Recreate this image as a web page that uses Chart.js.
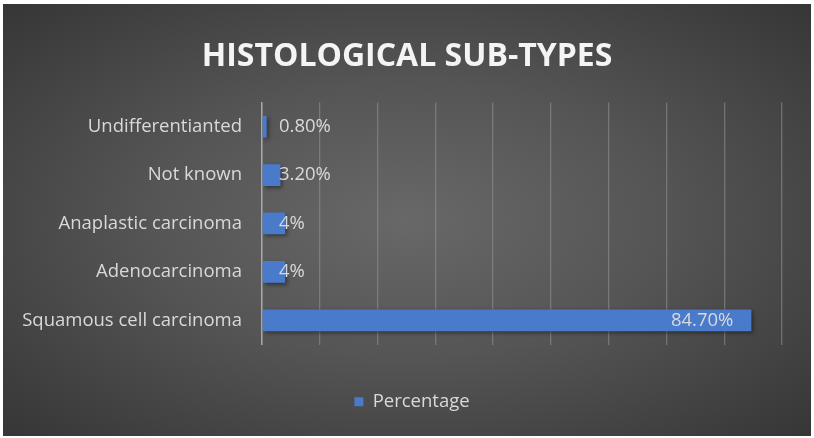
<!DOCTYPE html>
<html>
<head>
<meta charset="utf-8">
<script src="https://cdn.jsdelivr.net/npm/chart.js@4.4.1/dist/chart.umd.min.js"></script>
<style>
  html, body { margin: 0; padding: 0; background: #fff; }
  #wrap {
    position: absolute; left: 3px; top: 4px; width: 808px; height: 432px;
    background: radial-gradient(ellipse at 50% 50%, #686868 0%, #555 45%, #363636 100%);
  }
</style>
</head>
<body>
<div id="wrap"><canvas id="chart" width="808" height="432"></canvas></div>
<script>
// values (percent of cases)
const categories = ['Undifferentianted', 'Not known', 'Anaplastic carcinoma', 'Adenocarcinoma', 'Squamous cell carcinoma'];
const percentages = [0.8, 3.2, 4, 4, 84.7];
const valueLabels = ['0.80%', '3.20%', '4%', '4%', '84.70%'];

const textColor = '#d9d9d9';
const barBlue = '#4a7bcb';

// draws the value labels like the Excel ones: small values sit near the base, big ones inside the end
const barLabels = {
  id: 'barLabels',
  afterDatasetsDraw(chart) {
    const ctx = chart.ctx;
    const x = chart.scales.x;
    const meta = chart.getDatasetMeta(0);
    ctx.save();
    ctx.font = '18.5px "Open Sans"';
    ctx.fillStyle = textColor;
    ctx.textBaseline = 'middle';
    meta.data.forEach((bar, i) => {
      if (percentages[i] > 20) {
        ctx.textAlign = 'right';
        ctx.fillText(valueLabels[i], bar.x - 18, bar.y);
      } else {
        ctx.textAlign = 'left';
        ctx.fillText(valueLabels[i], x.getPixelForValue(0) + 17, bar.y);
      }
    });
    ctx.restore();
  }
};

// soft shadow under the bars
const barShadow = {
  id: 'barShadow',
  beforeDatasetDraw(chart) {
    const ctx = chart.ctx;
    ctx.save();
    ctx.shadowColor = 'rgba(0,0,0,0.45)';
    ctx.shadowBlur = 4;
    ctx.shadowOffsetX = 2;
    ctx.shadowOffsetY = 2;
  },
  afterDatasetDraw(chart) {
    chart.ctx.restore();
  }
};

// the title and legend in the original are centred on the whole picture, not on the padded area
const centreBoxes = {
  id: 'centreBoxes',
  afterLayout(chart) {
    const centre = chart.width / 2;
    [[chart.titleBlock, 0], [chart.legend, 5]].forEach(([box, extra]) => {
      if (!box) return;
      const shift = centre - (box.left + box.right) / 2 + extra;
      box.left += shift;
      box.right += shift;
    });
  }
};

new Chart(document.getElementById('chart'), {
  type: 'bar',
  data: {
    labels: categories,
    datasets: [{
      label: 'Percentage',
      data: percentages,
      backgroundColor: barBlue,
      borderWidth: 0,
      barPercentage: 0.9,
      categoryPercentage: 0.5
    }]
  },
  options: {
    indexAxis: 'y',
    responsive: false,
    animation: false,
    layout: { padding: { left: 17, right: 29, top: 0, bottom: 15 } },
    plugins: {
      title: {
        display: true,
        text: 'HISTOLOGICAL SUB-TYPES',
        color: '#f4f4f4',
        font: { family: '"Open Sans"', size: 32, weight: 'bold', lineHeight: 1.2 },
        padding: { top: 34, bottom: 26 }
      },
      legend: {
        position: 'bottom',
        labels: {
          color: textColor,
          font: { family: '"Open Sans"', size: 18.5 },
          boxWidth: 9,
          boxHeight: 9,
          padding: 10
        }
      },
      tooltip: { enabled: false }
    },
    scales: {
      x: {
        min: 0,
        max: 90,
        afterFit(scale) { scale.height = 38; },
        ticks: { stepSize: 10, display: false },
        border: { display: false },
        grid: { color: 'rgba(150,150,150,0.55)', lineWidth: 1.3, drawTicks: false }
      },
      y: {
        afterFit(scale) { scale.width = 242; },
        ticks: { color: textColor, font: { family: '"Open Sans"', size: 18.5 }, padding: 12 },
        grid: { display: false },
        border: { display: true, color: '#a8a8a8', width: 1.5 }
      }
    }
  },
  plugins: [barShadow, barLabels, centreBoxes]
});
</script>
</body>
</html>
